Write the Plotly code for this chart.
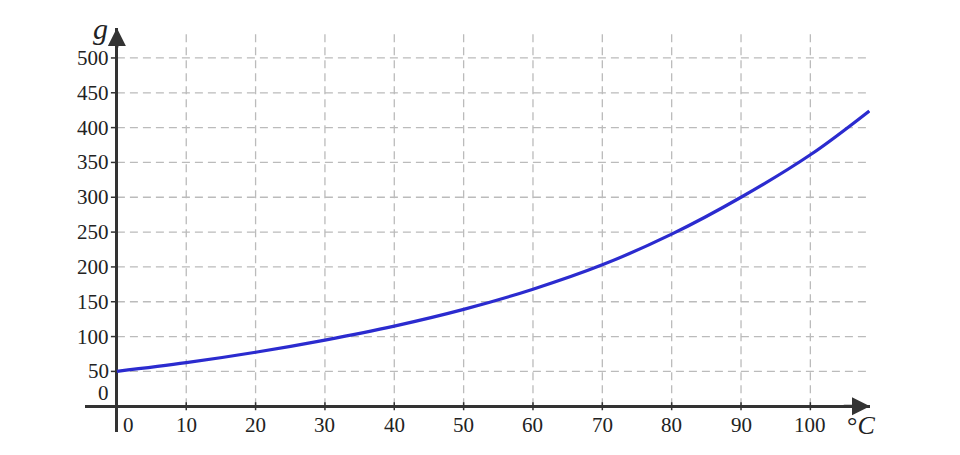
import plotly.graph_objects as go

# Data
temp_c = [0, 10, 20, 30, 40, 50, 60, 70, 80, 90, 100, 108.5]
grams = [50, 62.5, 77.5, 95, 115, 139, 168, 203, 247, 300, 361, 424]

x_ticks = [10, 20, 30, 40, 50, 60, 70, 80, 90, 100]
y_ticks = [50, 100, 150, 200, 250, 300, 350, 400, 450, 500]

X_MIN, X_MAX = -4.6, 108.6
Y_MIN, Y_MAX = -37, 543
GRID_TOP = 539

FONT = "Liberation Serif"
AXIS_COLOR = "#333333"
GRID_COLOR = "#bbbbbb"
TXT = "#222222"

fig = go.Figure()

fig.add_trace(go.Scatter(
    x=temp_c, y=grams, mode="lines",
    line=dict(color="#2b2bcf", width=3.2, shape="spline", smoothing=1.0),
    hoverinfo="skip", showlegend=False,
))

shapes = []
for xv in x_ticks:
    shapes.append(dict(type="line", xref="x", yref="y", x0=xv, x1=xv, y0=0, y1=GRID_TOP,
                       line=dict(color=GRID_COLOR, width=1.3, dash="8px,5px"), layer="below"))
    shapes.append(dict(type="line", xref="x", yref="y", x0=xv, x1=xv,
                       ysizemode="pixel", yanchor=0, y0=-4, y1=4,
                       line=dict(color=AXIS_COLOR, width=1.5)))
for yv in y_ticks:
    shapes.append(dict(type="line", xref="x", yref="y", x0=0, x1=X_MAX, y0=yv, y1=yv,
                       line=dict(color=GRID_COLOR, width=1.3, dash="8px,5px"), layer="below"))
    shapes.append(dict(type="line", xref="x", yref="y", y0=yv, y1=yv,
                       xsizemode="pixel", xanchor=0, x0=-6, x1=0,
                       line=dict(color=AXIS_COLOR, width=1.5)))

lab_font = dict(family=FONT, size=21, color=TXT)
annotations = []
for xv in x_ticks:
    annotations.append(dict(x=xv, y=0, xref="x", yref="y", text=str(xv), showarrow=False,
                            yshift=-19, font=lab_font))
annotations.append(dict(x=0, y=0, xref="x", yref="y", text="0", showarrow=False,
                        xshift=12, yshift=-19, font=lab_font))
for yv in y_ticks:
    annotations.append(dict(x=0, y=yv, xref="x", yref="y", text=str(yv), showarrow=False,
                            xanchor="right", xshift=-6, font=lab_font))
annotations.append(dict(x=0, y=0, xref="x", yref="y", text="0", showarrow=False,
                        xanchor="right", xshift=-6, yshift=13, font=lab_font))
# axis arrows
annotations.append(dict(x=X_MAX, y=0, ax=X_MAX - 4, ay=0, xref="x", yref="y", axref="x", ayref="y",
                        text="", showarrow=True, arrowhead=2, arrowsize=1.2, arrowwidth=3,
                        arrowcolor=AXIS_COLOR))
annotations.append(dict(x=0, y=Y_MAX, ax=0, ay=Y_MAX - 30, xref="x", yref="y", axref="x", ayref="y",
                        text="", showarrow=True, arrowhead=2, arrowsize=1.2, arrowwidth=3,
                        arrowcolor=AXIS_COLOR))
# axis names
annotations.append(dict(x=0, y=Y_MAX, xref="x", yref="y", text="<i>g</i>", showarrow=False,
                        xshift=-16, yshift=0, font=dict(family=FONT, size=30, color=TXT)))
annotations.append(dict(x=X_MAX, y=0, xref="x", yref="y", text="°<i>C</i>", showarrow=False,
                        xshift=-9, yshift=-19, font=dict(family=FONT, size=26, color=TXT)))

fig.update_layout(
    width=960, height=455,
    margin=dict(l=77, r=98, t=20, b=31),
    paper_bgcolor="white", plot_bgcolor="white",
    xaxis=dict(range=[X_MIN, X_MAX], showgrid=False, showticklabels=False, ticks="",
               zeroline=True, zerolinecolor=AXIS_COLOR, zerolinewidth=3, showline=False,
               fixedrange=True),
    yaxis=dict(range=[Y_MIN, Y_MAX], showgrid=False, showticklabels=False, ticks="",
               zeroline=True, zerolinecolor=AXIS_COLOR, zerolinewidth=3, showline=False,
               fixedrange=True),
    shapes=shapes, annotations=annotations,
)

fig.write_html("out.html")
